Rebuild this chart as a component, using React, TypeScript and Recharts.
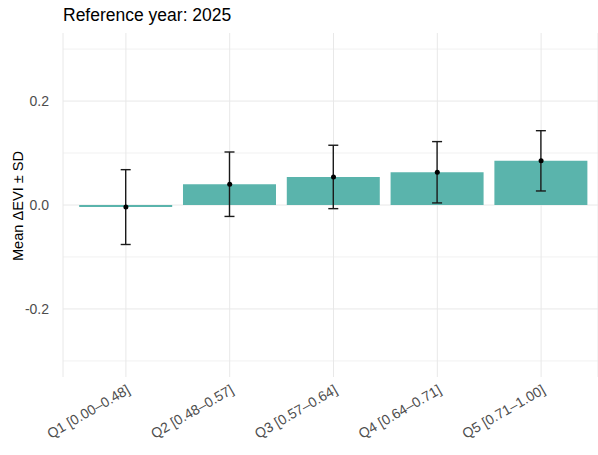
import { Bar, CartesianGrid, ComposedChart, ErrorBar, Line, XAxis, YAxis } from 'recharts';

const quintiles = ['Q1 [0.00–0.48]', 'Q2 [0.48–0.57]', 'Q3 [0.57–0.64]', 'Q4 [0.64–0.71]', 'Q5 [0.71–1.00]'];
const meanDeltaEvi = [-0.004, 0.04, 0.054, 0.063, 0.085];
const sdDeltaEvi = [0.072, 0.062, 0.061, 0.059, 0.058];
const majorTicks = [-0.2, 0, 0.2];
const minorTicks = [-0.3, -0.1, 0.1, 0.3];

const data = quintiles.map((q, i) => ({ q, mean: meanDeltaEvi[i], sd: sdDeltaEvi[i] }));

const FONT = '"Liberation Sans", Arial, Helvetica, sans-serif';
const TEAL = '#5ab4ac';

function AngledTick({ x, y, payload }: any) {
  return (
    <g transform={`translate(${x},${y}) rotate(-30)`}>
      <text x={0} y={0} dy="0.71em" textAnchor="end" fill="#4d4d4d" fontSize={14} fontFamily={FONT}>
        {payload.value}
      </text>
    </g>
  );
}

function YTitle() {
  return (
    <text transform="translate(18,206) rotate(-90)" textAnchor="middle" dominantBaseline="central" fontSize={14.6} fontFamily={FONT} fill="#000">
      Mean ΔEVI ± SD
    </text>
  );
}

export default function App() {
  return (
    <div style={{ position: 'relative', width: 598, height: 455, background: '#fff', fontFamily: FONT }}>
      <style>{'body{margin:0}'}</style>
      <div style={{ position: 'absolute', left: 63, top: 5, fontSize: 17.5, color: '#000', lineHeight: '20px' }}>
        Reference year: 2025
      </div>
      <ComposedChart width={598} height={455} data={data} margin={{ top: 33, right: 0, bottom: 0, left: 0 }} barCategoryGap="5%">
        <CartesianGrid horizontalValues={minorTicks} vertical={false} stroke="#efefef" strokeWidth={0.9} />
        <CartesianGrid horizontalValues={majorTicks} stroke="#e8e8e8" strokeWidth={1} />
        <XAxis
          dataKey="q"
          height={78}
          axisLine={false}
          tickLine={false}
          tickSize={0}
          tickMargin={7}
          interval={0}
          padding={{ left: 11, right: 5 }}
          tick={<AngledTick />}
        />
        <YAxis
          width={63}
          domain={[-0.331, 0.331]}
          ticks={majorTicks}
          tickFormatter={(v: number) => v.toFixed(1)}
          axisLine={false}
          tickLine={false}
          tickSize={0}
          tickMargin={14}
          tick={{ fill: '#4d4d4d', fontSize: 14, fontFamily: FONT }}
          label={{ content: () => <YTitle /> }}
        />
        <Bar dataKey="mean" fill={TEAL} isAnimationActive={false}>
          <ErrorBar dataKey="sd" width={5} stroke="#1a1a1a" strokeWidth={1.4} />
        </Bar>
        <Line dataKey="mean" stroke="none" dot={{ r: 2.5, fill: '#000', stroke: 'none' }} activeDot={false} isAnimationActive={false} />
      </ComposedChart>
    </div>
  );
}
